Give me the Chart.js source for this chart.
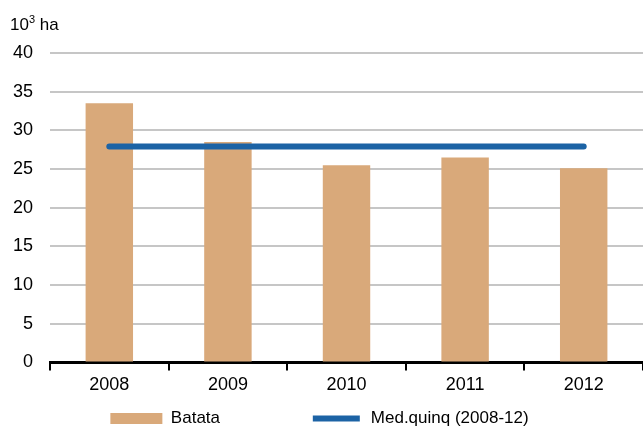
<!DOCTYPE html>
<html>
<head>
<meta charset="utf-8">
<script src="https://cdn.jsdelivr.net/npm/chart.js@4"></script>
<style>
  body { margin: 0; background: #fff; }
  #wrap { position: relative; width: 643px; height: 426px; }
  #unit { position: absolute; left: 10px; top: 13px; font: 17px "Liberation Sans", Arial, sans-serif; color: #000; }
  #unit sup { font-size: 11px; }
</style>
</head>
<body>
<div id="wrap">
  <canvas id="chart" width="643" height="426"></canvas>
  <div id="unit">10<sup>3</sup> ha</div>
</div>
<script>
const years = ["2008", "2009", "2010", "2011", "2012"];
const batata = [33.5, 28.5, 25.5, 26.5, 25.1];
const media = [27.9, 27.9, 27.9, 27.9, 27.9];
const yTicks = [0, 5, 10, 15, 20, 25, 30, 35, 40];

const font = "'Liberation Sans', Arial, sans-serif";
const gap = "\u00a0".repeat(17); // spacing between the two legend items

new Chart(document.getElementById("chart"), {
  type: "bar",
  data: {
    labels: years,
    datasets: [
      {
        type: "line",
        label: "Med.quinq (2008-12)",
        data: media,
        borderColor: "#1c63a5",
        backgroundColor: "#1c63a5",
        borderWidth: 6,
        borderCapStyle: "round",
        pointRadius: 0,
        order: 0,
      },
      {
        label: "Batata",
        data: batata,
        backgroundColor: "#d9a97a",
        categoryPercentage: 1,
        barPercentage: 0.4,
        order: 1,
      },
    ],
  },
  options: {
    responsive: false,
    animation: false,
    layout: { padding: { top: 53, right: 0, left: -4, bottom: -11 } },
    plugins: {
      legend: {
        position: "bottom",
        labels: {
          font: { family: font, size: 17 },
          color: "#000",
          boxWidth: 52,
          boxHeight: 11,
          padding: 10,
          generateLabels: (chart) => [
            { text: "Batata" + gap, fillStyle: "#d9a97a", strokeStyle: "#d9a97a", lineWidth: 0, datasetIndex: 1 },
            { text: "Med.quinq (2008-12)", fillStyle: "#1c63a5", strokeStyle: "#ffffff", lineWidth: 5, datasetIndex: 0 },
          ],
        },
      },
      tooltip: { enabled: false },
    },
    scales: {
      x: {
        grid: { display: true, offset: true, drawOnChartArea: false, color: "#000", lineWidth: 2, tickLength: 8 },
        border: { display: true, color: "#000", width: 3 },
        ticks: { font: { family: font, size: 18 }, color: "#000", padding: 4 },
      },
      y: {
        min: 0,
        max: 40,
        afterBuildTicks: (axis) => { axis.ticks = yTicks.map((v) => ({ value: v })); },
        grid: { color: "#c6c6c6", lineWidth: 2, drawTicks: false },
        border: { display: false },
        ticks: { font: { family: font, size: 18 }, color: "#000", padding: 17 },
      },
    },
  },
});
</script>
</body>
</html>
